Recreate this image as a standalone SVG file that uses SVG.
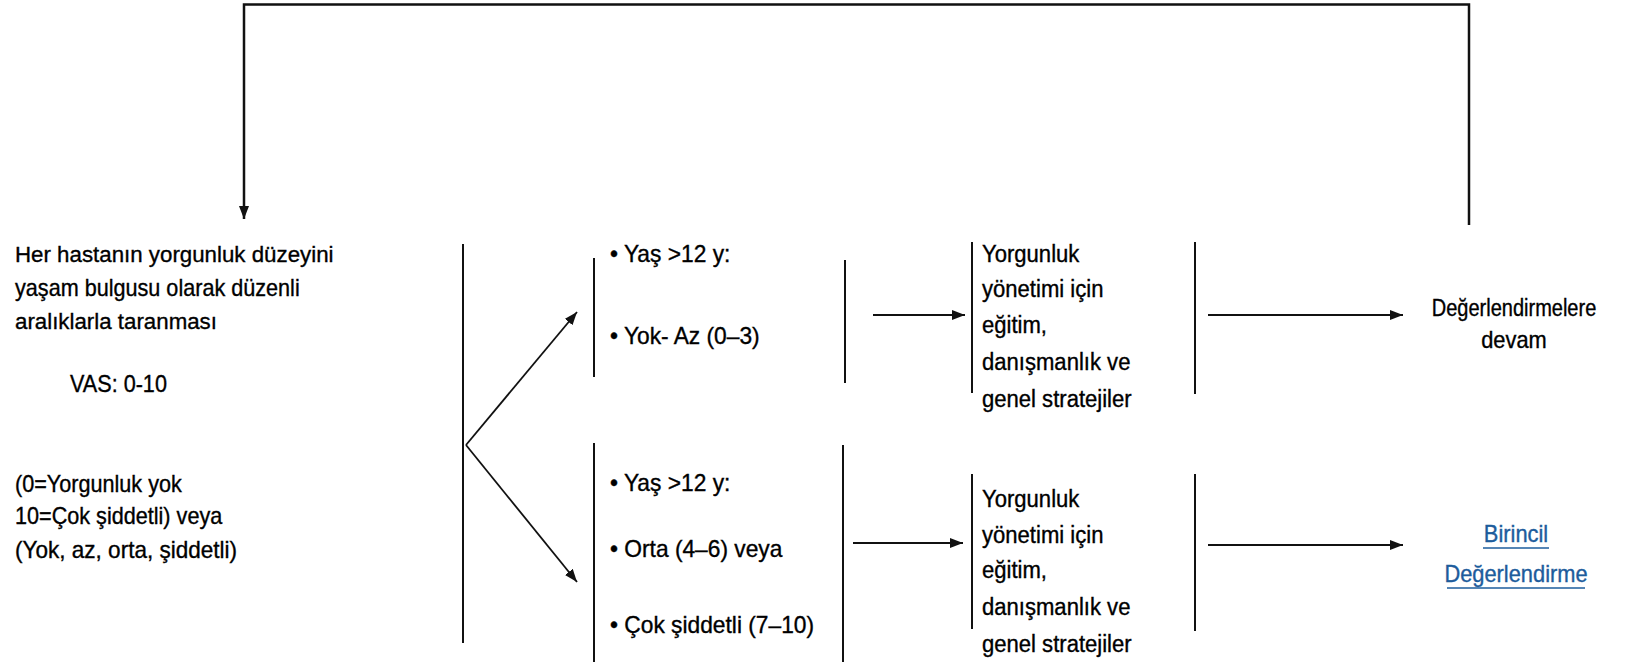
<svg xmlns="http://www.w3.org/2000/svg" width="1641" height="662" viewBox="0 0 1641 662">
<style>
text{font-family:"Liberation Sans",Arial,sans-serif;font-size:23px;fill:#000;stroke:#000;stroke-width:0.35}
.bar{stroke:#111;stroke-width:2;fill:none}
.con{stroke:#111;stroke-width:1.8;fill:none}
.fb{stroke:#111;stroke-width:2.5;fill:none}
text.link{fill:#1d5c9c;stroke:#1d5c9c}
.ul{stroke:#1d5c9c;stroke-width:1.6}
</style>
<defs>
<marker id="ah" markerUnits="userSpaceOnUse" markerWidth="14" markerHeight="10" refX="13" refY="5" orient="auto">
<path d="M0,0 L13,5 L0,10 z" fill="#111"/>
</marker>
</defs>
<rect width="1641" height="662" fill="#fff"/>
<g id="connectors">
<path class="fb" d="M1469,225 V4.5 H244 V219" marker-end="url(#ah)"/>
<line class="con" x1="466" y1="445" x2="577" y2="312" marker-end="url(#ah)"/>
<line class="con" x1="466" y1="445" x2="577" y2="582" marker-end="url(#ah)"/>
<line class="con" x1="873" y1="315" x2="965" y2="315" marker-end="url(#ah)"/>
<line class="con" x1="853" y1="543" x2="963" y2="543" marker-end="url(#ah)"/>
<line class="con" x1="1208" y1="315" x2="1403" y2="315" marker-end="url(#ah)"/>
<line class="con" x1="1208" y1="545" x2="1403" y2="545" marker-end="url(#ah)"/>
</g>
<g id="screening">
<text transform="translate(15,262) scale(0.97,1)">Her hastanın yorgunluk düzeyini</text>
<text transform="translate(15,296) scale(0.94,1)">yaşam bulgusu olarak düzenli</text>
<text transform="translate(15,329) scale(0.97,1)">aralıklarla taranması</text>
<text transform="translate(70,392) scale(0.94,1)">VAS: 0-10</text>
<text transform="translate(15,492) scale(0.94,1)">(0=Yorgunluk yok</text>
<text transform="translate(15,524) scale(0.94,1)">10=Çok şiddetli) veya</text>
<text transform="translate(15,558) scale(0.98,1)">(Yok, az, orta, şiddetli)</text>
<line class="bar" x1="463" y1="244" x2="463" y2="643"/>
</g>
<g id="mild">
<line class="bar" x1="594" y1="258" x2="594" y2="377"/>
<text transform="translate(610,262) scale(0.99,1)">• Yaş &gt;12 y:</text>
<text transform="translate(610,344) scale(0.99,1)">• Yok- Az (0–3)</text>
<line class="bar" x1="845" y1="260" x2="845" y2="383"/>
</g>
<g id="severe">
<line class="bar" x1="594" y1="443" x2="594" y2="662"/>
<text transform="translate(610,491) scale(0.99,1)">• Yaş &gt;12 y:</text>
<text transform="translate(610,557) scale(0.99,1)">• Orta (4–6) veya</text>
<text transform="translate(610,633) scale(0.99,1)">• Çok şiddetli (7–10)</text>
<line class="bar" x1="843" y1="445" x2="843" y2="662"/>
</g>
<g id="education-top">
<line class="bar" x1="972" y1="242" x2="972" y2="393"/>
<text transform="translate(982,262) scale(0.96,1)">Yorgunluk</text>
<text transform="translate(982,297) scale(0.96,1)">yönetimi için</text>
<text transform="translate(982,333) scale(0.96,1)">eğitim,</text>
<text transform="translate(982,370) scale(0.96,1)">danışmanlık ve</text>
<text transform="translate(982,407) scale(0.96,1)">genel stratejiler</text>
<line class="bar" x1="1195" y1="242" x2="1195" y2="394"/>
</g>
<g id="education-bottom">
<line class="bar" x1="972" y1="474" x2="972" y2="629"/>
<text transform="translate(982,507) scale(0.96,1)">Yorgunluk</text>
<text transform="translate(982,543) scale(0.96,1)">yönetimi için</text>
<text transform="translate(982,578) scale(0.96,1)">eğitim,</text>
<text transform="translate(982,615) scale(0.96,1)">danışmanlık ve</text>
<text transform="translate(982,652) scale(0.96,1)">genel stratejiler</text>
<line class="bar" x1="1195" y1="474" x2="1195" y2="631"/>
</g>
<g id="continue">
<text transform="translate(1514,316) scale(0.87,1)" text-anchor="middle">Değerlendirmelere</text>
<text transform="translate(1514,348) scale(0.95,1)" text-anchor="middle">devam</text>
</g>
<g id="primary">
<text class="link" transform="translate(1516,542) scale(0.95,1)" text-anchor="middle">Birincil</text>
<line class="ul" x1="1483" y1="548" x2="1549" y2="548"/>
<text class="link" transform="translate(1516,582) scale(0.95,1)" text-anchor="middle">Değerlendirme</text>
<line class="ul" x1="1447" y1="588" x2="1585" y2="588"/>
</g>
</svg>
